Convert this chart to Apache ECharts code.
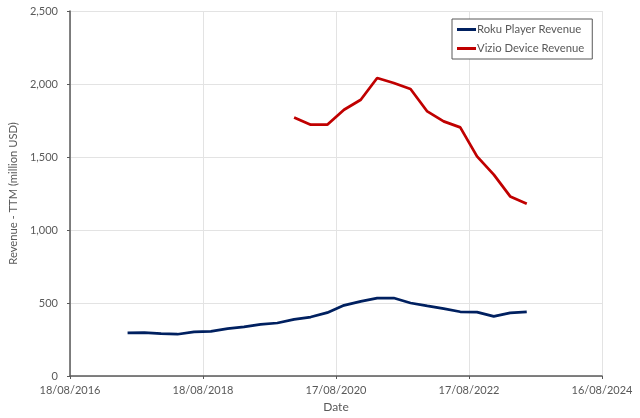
<!DOCTYPE html>
<html>
<head>
<meta charset="utf-8">
<script src="https://cdn.jsdelivr.net/npm/echarts@6/dist/echarts.min.js"></script>
<style>
html,body{margin:0;padding:0;background:#fff;}
#chart{width:640px;height:418px;}
</style>
</head>
<body>
<div id="chart"></div>
<script>
// Data
const rokuDates = ['2017-06-30','2017-09-30','2017-12-31','2018-03-31','2018-06-30','2018-09-30','2018-12-31','2019-03-31','2019-06-30','2019-09-30','2019-12-31','2020-03-31','2020-06-30','2020-09-30','2020-12-31','2021-03-31','2021-06-30','2021-09-30','2021-12-31','2022-03-31','2022-06-30','2022-09-30','2022-12-31','2023-03-31','2023-06-30'];
const rokuValues = [295,297,290,286,302,306,324,336,354,363,388,404,434,484,511,534,534,500,480,461,440,438,408,432,440];
const vizioDates = ['2019-12-31','2020-03-31','2020-06-30','2020-09-30','2020-12-31','2021-03-31','2021-06-30','2021-09-30','2021-12-31','2022-03-31','2022-06-30','2022-09-30','2022-12-31','2023-03-31','2023-06-30'];
const vizioValues = [1771,1721,1721,1824,1892,2041,2007,1966,1812,1744,1703,1504,1379,1230,1180];
const xStart = '2016-08-18';
const xSpanDays = 2920;
const xTickDays = 730;
const seriesNames = ['Roku Player Revenue','Vizio Device Revenue'];

const DAY = 86400000;
const base = Date.parse(xStart + 'T00:00:00Z');
function dayOffset(s){ return Math.round((Date.parse(s + 'T00:00:00Z') - base) / DAY); }
function fmtDate(v){
  const d = new Date(base + v * DAY);
  const dd = String(d.getUTCDate()).padStart(2,'0');
  const mm = String(d.getUTCMonth()+1).padStart(2,'0');
  return dd + '/' + mm + '/' + d.getUTCFullYear();
}
const rokuData = rokuDates.map((d,i)=>[dayOffset(d), rokuValues[i]]);
const vizioData = vizioDates.map((d,i)=>[dayOffset(d), vizioValues[i]]);

const FONT = 'Lato';
const TXT = '#595959';
const chart = echarts.init(document.getElementById('chart'), null, {renderer:'canvas'});
chart.setOption({
  animation:false,
  backgroundColor:'#ffffff',
  textStyle:{fontFamily:FONT},
  grid:{left:69, right:38, top:11, bottom:41, containLabel:false},
  legend:{
    data:seriesNames,
    orient:'vertical',
    left:452, top:19,
    itemWidth:19, itemHeight:3, itemGap:6,
    icon:'rect',
    padding:[4,8,4,5],
    borderColor:'#595959', borderWidth:1,
    backgroundColor:'#ffffff',
    textStyle:{fontFamily:FONT, fontSize:11.3, color:TXT, padding:[0,0,0,-4], lineHeight:13}
  },
  xAxis:{
    type:'value', min:0, max:xSpanDays, interval:xTickDays,
    name:'Date', nameLocation:'middle', nameGap:25,
    nameTextStyle:{fontFamily:FONT, fontSize:12, color:TXT},
    axisLine:{show:true, lineStyle:{color:'#595959', width:1.5}},
    axisTick:{show:true, inside:false, length:3, lineStyle:{color:'#595959'}},
    axisLabel:{formatter:fmtDate, color:TXT, fontFamily:FONT, fontSize:11, margin:9, showMinLabel:true, showMaxLabel:true},
    splitLine:{show:true, lineStyle:{color:'#e3e3e3', width:1}}
  },
  yAxis:{
    type:'value', min:0, max:2500, interval:500,
    name:'Revenue - TTM (million USD)', nameLocation:'middle', nameGap:51, nameRotate:90,
    nameTextStyle:{fontFamily:FONT, fontSize:11.2, color:TXT},
    axisLine:{show:true, lineStyle:{color:'#595959', width:1.5}},
    axisTick:{show:true, length:3, lineStyle:{color:'#595959'}},
    axisLabel:{color:TXT, fontFamily:FONT, fontSize:11, margin:12,
      formatter:v=>v.toLocaleString('en-US')},
    splitLine:{show:true, lineStyle:{color:'#e3e3e3', width:1}}
  },
  series:[
    {name:seriesNames[0], type:'line', data:rokuData, showSymbol:false, symbol:'none',
     lineStyle:{color:'#002060', width:2.75}, itemStyle:{color:'#002060'}},
    {name:seriesNames[1], type:'line', data:vizioData, showSymbol:false, symbol:'none',
     lineStyle:{color:'#C00000', width:2.75}, itemStyle:{color:'#C00000'}}
  ]
});
</script>
</body>
</html>
